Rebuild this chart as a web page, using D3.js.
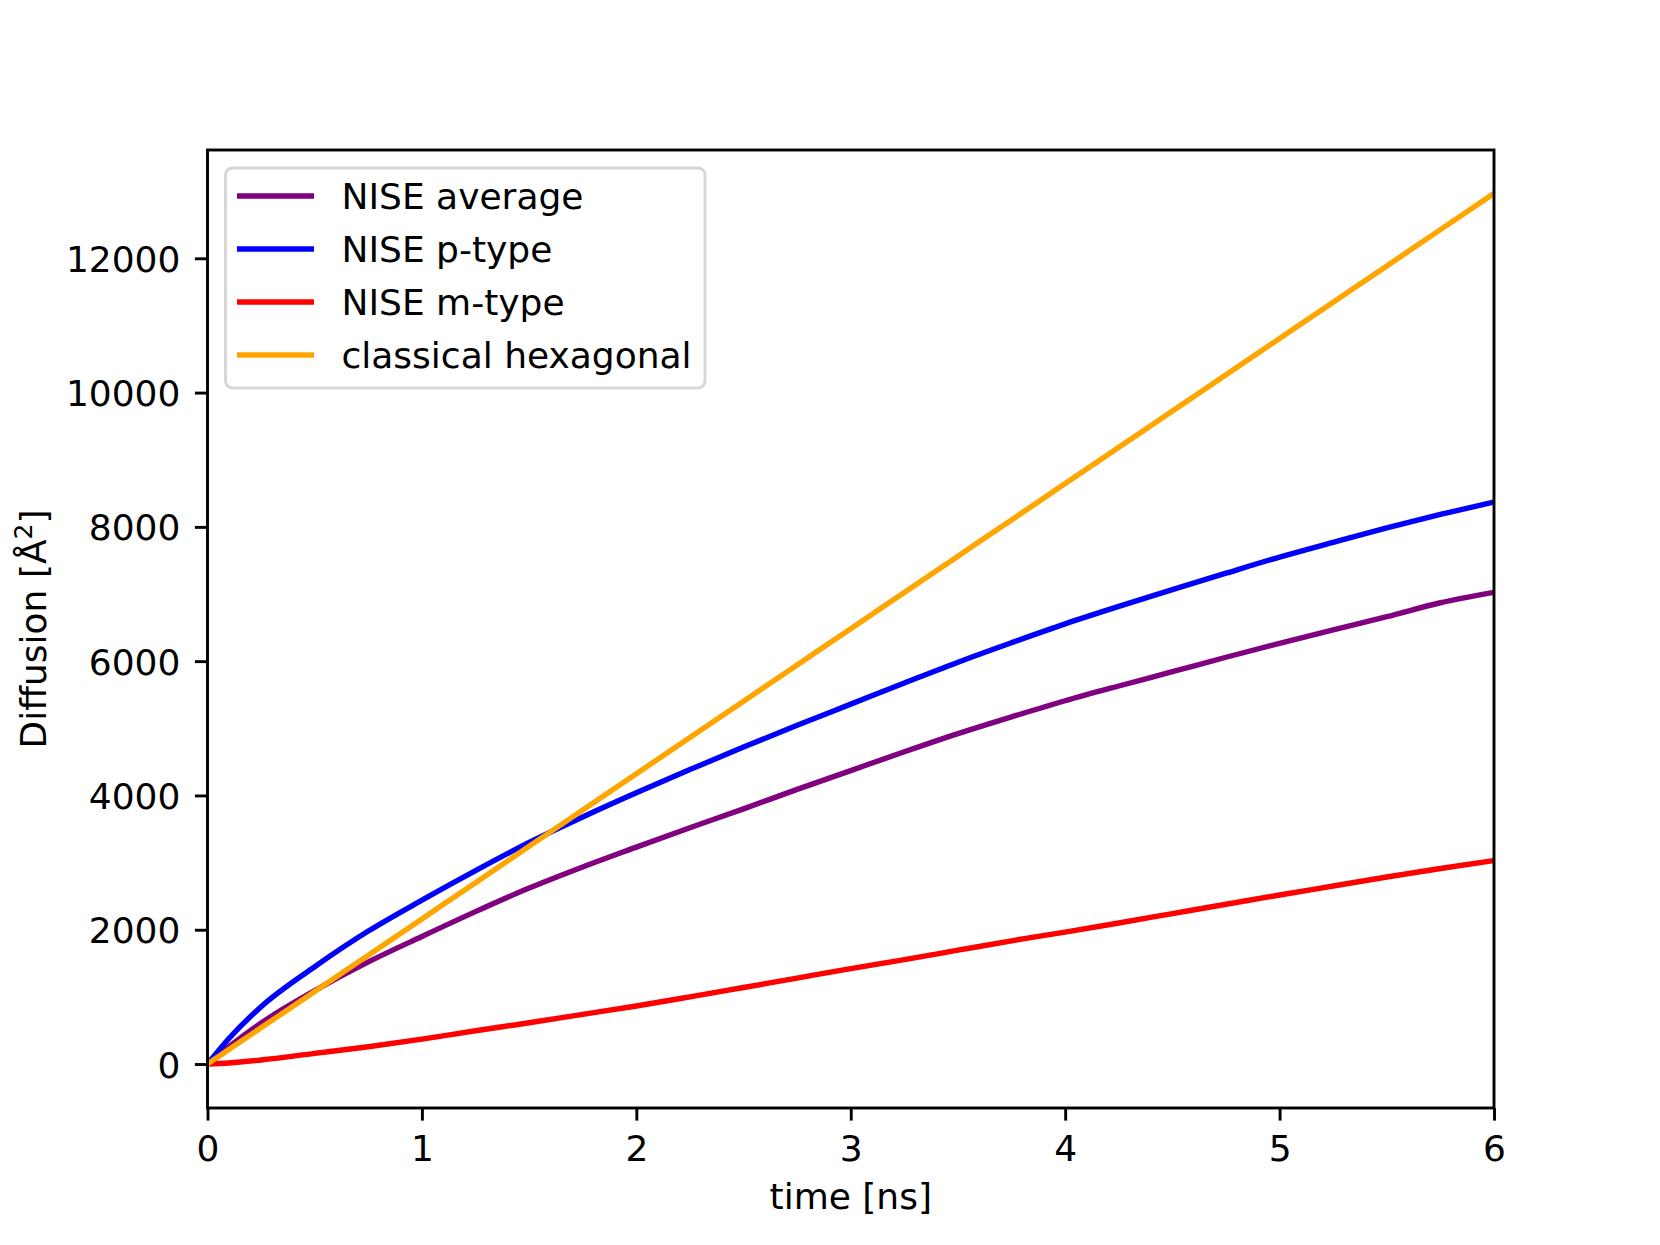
<!DOCTYPE html>
<html>
<head>
<meta charset="utf-8">
<script src="https://cdn.jsdelivr.net/npm/d3@7"></script>
<style>
  html, body { margin: 0; padding: 0; background: #ffffff; }
  svg { display: block; font-family: "DejaVu Sans", sans-serif; }
</style>
</head>
<body>
<svg id="chart" width="1660" height="1245"></svg>
<script>
// ---- data ----
const times = [0, 0.1, 0.25, 0.5, 0.75, 1, 1.25, 1.5, 1.75, 2, 2.25, 2.5, 2.75, 3,
  3.25, 3.5, 3.75, 4, 4.25, 4.5, 4.75, 5, 5.25, 5.5, 5.75, 6];
const niseAverage = [0, 258, 610, 1092, 1520, 1900, 2270, 2620, 2935, 3230, 3520, 3800,
  4090, 4370, 4650, 4920, 5170, 5410, 5630, 5843, 6058, 6266, 6467, 6662, 6870, 7025];
const nisePType = [0, 380, 854, 1449, 1980, 2440, 2880, 3300, 3680, 4040, 4385, 4720,
  5045, 5360, 5675, 5985, 6275, 6555, 6815, 7065, 7310, 7550, 7770, 7985, 8185, 8370];
const niseMType = [0, 15, 60, 159, 258, 370, 495, 615, 740, 864, 1000, 1140,
  1280, 1420, 1555, 1695, 1835, 1965, 2100, 2240, 2380, 2517, 2651, 2785, 2912, 3030];
const classicalHexagonal = [0, 216, 540, 1081, 1621, 2161, 2701, 3242, 3782, 4322, 4863, 5403,
  5943, 6484, 7024, 7564, 8104, 8645, 9185, 9725, 10266, 10806, 11346, 11886, 12427, 12967];
const seriesNames = ["NISE average", "NISE p-type", "NISE m-type", "classical hexagonal"];
const seriesColors = ["#800080", "#0000ff", "#ff0000", "#ffa500"];
const xTicks = [0, 1, 2, 3, 4, 5, 6];
const yTicks = [0, 2000, 4000, 6000, 8000, 10000, 12000];
const xLabel = "time [ns]";

// ---- layout ----
const svg = d3.select("#chart");
const L = 207.5, R = 1494, T = 150, B = 1108;
const x = d3.scaleLinear().domain([0, 6]).range([L, R]);
const y = d3.scaleLinear().domain([-655, 13613]).range([B, T]);
const fs = 36, lw = 5.4, axw = 2.9, tickLen = 12.6;

svg.append("defs").append("clipPath").attr("id", "clip")
  .append("rect").attr("x", L).attr("y", T).attr("width", R - L).attr("height", B - T);

const allSeries = [niseAverage, nisePType, niseMType, classicalHexagonal];
const line = d3.line().x((d, i) => x(times[i])).y(d => y(d)).curve(d3.curveMonotoneX);
const g = svg.append("g").attr("clip-path", "url(#clip)");
allSeries.forEach((s, k) => {
  g.append("path").datum(s).attr("d", line)
    .attr("fill", "none").attr("stroke", seriesColors[k])
    .attr("stroke-width", lw).attr("stroke-linejoin", "round").attr("stroke-linecap", "square");
});

// ---- axes ----
const xAxis = d3.axisBottom(x).tickValues(xTicks).tickFormat(d3.format("d"))
  .tickSize(tickLen).tickPadding(10);
const gx = svg.append("g").attr("transform", `translate(0,${B})`).call(xAxis);
const yAxis = d3.axisLeft(y).tickValues(yTicks).tickFormat(d => String(d))
  .tickSize(tickLen).tickPadding(14.5);
const gy = svg.append("g").attr("transform", `translate(${L},0)`).call(yAxis);
[gx, gy].forEach(a => {
  a.select(".domain").remove();
  a.selectAll(".tick line").attr("stroke", "#000").attr("stroke-width", axw);
  a.selectAll(".tick text").attr("fill", "#000").attr("font-size", fs)
    .attr("font-family", "DejaVu Sans, sans-serif");
});
gx.selectAll(".tick text").attr("dy", null).attr("y", 53).attr("dominant-baseline", "alphabetic");
gy.selectAll(".tick text").attr("dy", null).attr("dominant-baseline", "alphabetic").attr("y", 13);

// frame
svg.append("rect").attr("x", L).attr("y", T).attr("width", R - L).attr("height", B - T)
  .attr("fill", "none").attr("stroke", "#000").attr("stroke-width", axw)
  .attr("stroke-linejoin", "miter");

// axis labels
svg.append("text").attr("x", (L + R) / 2).attr("y", 1209).attr("text-anchor", "middle")
  .attr("font-size", fs).attr("fill", "#000").text(xLabel);
const yl = svg.append("text").attr("transform", `translate(46,${(T + B) / 2}) rotate(-90)`)
  .attr("text-anchor", "middle").attr("font-size", fs).attr("fill", "#000");
yl.append("tspan").text("Diffusion [Å");
yl.append("tspan").attr("font-size", 25).attr("dy", -14).text("2");
yl.append("tspan").attr("dy", 14).text("]");

// ---- legend ----
const leg = svg.append("g");
leg.append("rect").attr("x", 225.5).attr("y", 168).attr("width", 479.5).attr("height", 220)
  .attr("rx", 7).attr("ry", 7).attr("fill", "#ffffff").attr("fill-opacity", 0.8)
  .attr("stroke", "#d6d6d6").attr("stroke-width", 2.9);
const legY = d3.scaleLinear().domain([0, 3]).range([196, 355]);
seriesNames.forEach((name, k) => {
  const yy = legY(k);
  leg.append("line").attr("x1", 237).attr("x2", 314).attr("y1", yy).attr("y2", yy)
    .attr("stroke", seriesColors[k]).attr("stroke-width", lw);
  leg.append("text").attr("x", 341.5).attr("y", yy + 13).attr("font-size", fs)
    .attr("fill", "#000").text(name);
});
</script>
</body>
</html>
